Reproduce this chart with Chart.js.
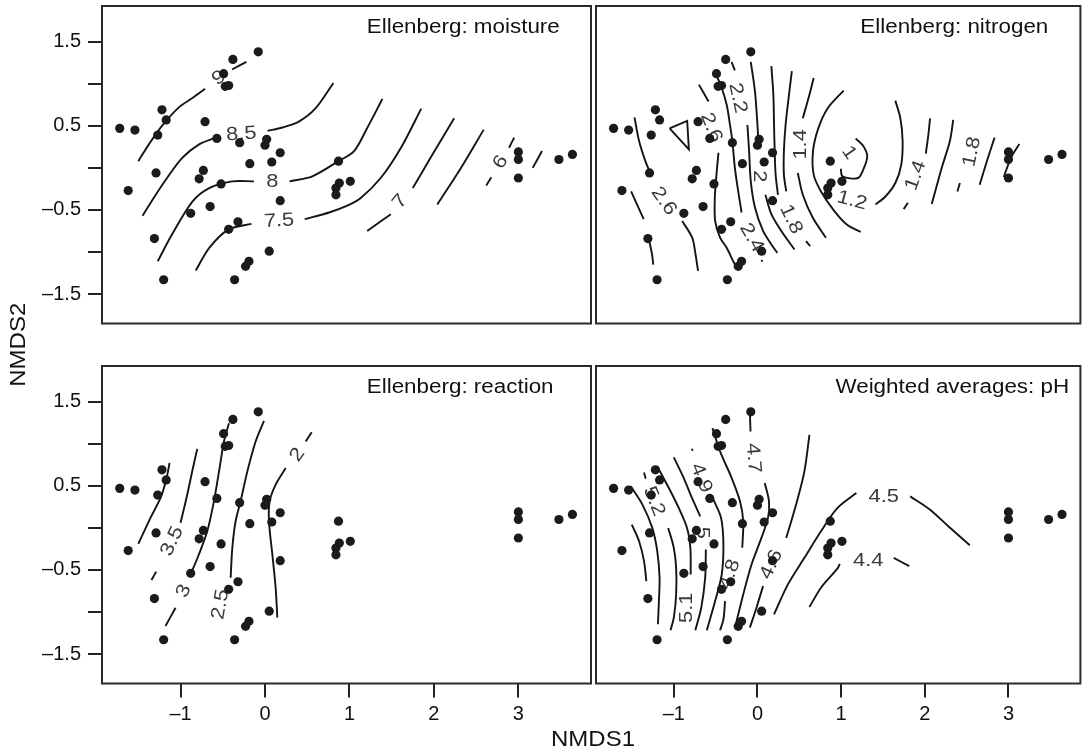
<!DOCTYPE html>
<html>
<head>
<meta charset="utf-8">
<title>NMDS Ellenberg contours</title>
<script src="https://cdn.jsdelivr.net/npm/chart.js@4.4.1/dist/chart.umd.min.js"></script>
<style>
  html, body { margin: 0; padding: 0; background: #fff; }
  #wrap { position: relative; width: 1085px; height: 752px; }
  #wrap canvas { position: absolute; left: 0; top: 0; }
</style>
</head>
<body>
<div id="wrap">
  <canvas id="moisture" width="1085" height="752"></canvas>
  <canvas id="nitrogen" width="1085" height="752"></canvas>
  <canvas id="reaction" width="1085" height="752"></canvas>
  <canvas id="ph" width="1085" height="752"></canvas>
</div>
<script>
const FONT = '"Liberation Sans", Arial, Helvetica, sans-serif';

// eixos
const xTickValues = [-1, 0, 1, 2, 3];
const xTickLabels = ['\u20131', '0', '1', '2', '3'];
const yTickValues = [-1.5, -1, -0.5, 0, 0.5, 1, 1.5];
const yTickLabels = ['\u20131.5', '', '\u20130.5', '', '0.5', '', '1.5'];
const xRange = [-1.93, 3.86];
const yRange = [-1.85, 1.925];

// scores NMDS das parcelas (iguais nos quatro paineis)
const siteX = [-0.08, -0.38, -0.49, -0.47, -0.43, -1.22, -1.17, -1.72, -1.54, -1.27, -0.71,
  -0.57, -0.30, 0.02, 0.00, 0.18, 0.08, -0.18, -1.29, -0.73, -0.78, -0.52, -1.62, 0.18,
  -0.65, -0.88, -0.32, -0.43, -1.31, 0.05, -0.19, -0.23, -1.20, -0.36, 0.87, 0.88, 0.84,
  0.84, 1.01, 3.00, 3.00, 3.00, 3.48, 3.64];
const siteY = [1.38, 1.29, 1.12, 0.97, 0.98, 0.69, 0.57, 0.47, 0.45, 0.39, 0.55,
  0.35, 0.30, 0.34, 0.27, 0.18, 0.07, 0.05, -0.06, -0.03, -0.13, -0.19, -0.27, -0.39,
  -0.46, -0.54, -0.64, -0.73, -0.84, -0.99, -1.11, -1.17, -1.33, -1.33, 0.08, -0.18, -0.24,
  -0.32, -0.16, 0.19, 0.10, -0.12, 0.10, 0.16];

// linhas de contorno (ordisurf), em unidades NMDS
const moistureContours = [
  [[-1.50, 0.08], [-1.375, 0.28], [-1.22, 0.50], [-1.02, 0.72], [-0.86, 0.83], [-0.71, 0.94]],
  [[-0.39, 1.17], [-0.22, 1.26]],
  [[-1.45, -0.57], [-1.32, -0.36], [-1.16, -0.12], [-0.98, 0.12], [-0.78, 0.28], [-0.585, 0.36]],
  [[0.03, 0.44], [0.205, 0.48], [0.40, 0.55], [0.60, 0.71], [0.81, 1.01]],
  [[-1.27, -1.11], [-1.10, -0.79], [-0.86, -0.40], [-0.66, -0.24], [-0.39, -0.16], [-0.13, -0.16]],
  [[0.29, -0.16], [0.56, -0.10], [0.87, 0.08], [1.055, 0.20], [1.21, 0.475], [1.39, 0.82]],
  [[-0.82, -1.22], [-0.66, -0.95], [-0.43, -0.73], [-0.16, -0.665]],
  [[0.47, -0.61], [0.76, -0.53], [0.96, -0.455], [1.13, -0.36], [1.37, -0.12], [1.61, 0.24], [1.85, 0.705]],
  [[1.21, -0.75], [1.49, -0.55]],
  [[1.75, -0.24], [1.96, 0.12], [2.24, 0.59]],
  [[2.04, -0.435], [2.32, 0.0], [2.59, 0.455]],
  [[2.62, -0.21], [2.68, -0.11]],
  [[2.89, 0.24], [2.95, 0.36]],
  [[3.17, 0.0], [3.28, 0.20]]
];
const moistureLabels = [
  ['9', -0.545, 1.07, -35], ['8.5', -0.28, 0.40, -4], ['8', 0.087, -0.17, 0],
  ['7.5', 0.166, -0.63, -3], ['7', 1.60, -0.40, -50], ['6', 2.79, 0.07, -60]
];

const nitrogenContours = [
  [[-1.47, 0.60], [-1.415, 0.32], [-1.34, 0.08], [-1.29, -0.04]],
  [[-1.51, -0.28], [-1.36, -0.61]],
  [[-0.90, -0.63], [-0.78, -0.83], [-0.74, -1.03], [-0.71, -1.225]],
  [[-1.30, -0.84], [-1.26, -1.03], [-1.245, -1.15]],
  [[-1.05, 0.47], [-0.84, 0.56], [-0.82, 0.22], [-1.05, 0.47]],
  [[-0.70, 0.99], [-0.585, 0.79]],
  [[-0.466, 0.18], [-0.49, -0.08], [-0.51, -0.36], [-0.506, -0.63], [-0.447, -0.83], [-0.368, -0.95], [-0.29, -1.11], [-0.237, -1.21]],
  [[-0.31, 1.26], [-0.27, 1.16]],
  [[-0.494, 1.11], [-0.427, 0.95], [-0.368, 0.75], [-0.328, 0.51], [-0.30, 0.32], [-0.27, 0.0], [-0.23, -0.28], [-0.19, -0.53]],
  [[0.047, -1.095], [0.059, -1.115]],
  [[-0.12, 0.51], [-0.10, 0.20], [-0.08, -0.16], [-0.03, -0.47], [0.067, -0.75], [0.166, -0.91], [0.237, -1.01]],
  [[-0.08, 1.26], [-0.03, 0.91], [0.0, 0.51], [0.016, 0.24]],
  [[0.095, -0.32], [0.166, -0.55], [0.285, -0.75], [0.443, -0.97]],
  [[0.166, 1.21], [0.19, 0.87], [0.198, 0.51], [0.206, 0.20], [0.217, -0.08], [0.245, -0.32]],
  [[0.411, 1.15], [0.372, 0.83], [0.336, 0.51], [0.316, 0.20], [0.316, -0.08], [0.344, -0.28]],
  [[0.58, -0.87], [0.63, -0.93]],
  [[0.672, 1.07], [0.621, 0.87], [0.542, 0.59]],
  [[0.482, -0.06], [0.542, -0.32], [0.66, -0.59], [0.818, -0.83]],
  [[1.03, 0.92], [0.84, 0.71], [0.727, 0.47], [0.664, 0.20], [0.672, -0.08], [0.759, -0.28], [0.917, -0.51], [1.075, -0.68], [1.233, -0.76]],
  [[1.174, 0.35], [1.265, 0.26], [1.312, 0.14], [1.273, 0.0], [1.202, -0.12], [1.016, -0.10], [0.996, -0.01]],
  [[1.648, 0.80], [1.708, 0.59], [1.735, 0.32], [1.719, 0.04], [1.648, -0.18], [1.53, -0.34], [1.411, -0.435]],
  [[1.747, -0.49], [1.798, -0.415]],
  [[2.012, 0.17], [2.043, 0.395], [2.063, 0.59]],
  [[2.083, -0.43], [2.202, 0.0], [2.30, 0.32], [2.34, 0.57]],
  [[2.39, -0.28], [2.42, -0.18]],
  [[2.656, -0.20], [2.755, 0.12], [2.834, 0.36]],
  [[2.944, -0.11], [3.03, 0.12], [3.13, 0.285]]
];
const nitrogenLabels = [
  ['2.2', -0.237, 0.83, 78], ['2.6', -0.553, 0.48, 68], ['2.6', -1.12, -0.395, 55],
  ['2', 0.016, -0.10, 90], ['2.4', -0.07, -0.83, 60], ['1.8', 0.40, -0.61, 65],
  ['1.4', 0.52, 0.28, -90], ['1', 1.095, 0.18, 55], ['1.2', 1.13, -0.39, 15],
  ['1.4', 1.893, -0.09, -70], ['1.8', 2.565, 0.19, -78]
];

const reactionContours = [
  [[-1.50, -0.19], [-1.356, 0.12], [-1.237, 0.356], [-1.17, 0.573], [-1.13, 0.771]],
  [[-1.344, -0.62], [-1.289, -0.52]],
  [[-1.0, 0.06], [-0.921, 0.395], [-0.854, 0.71], [-0.802, 0.94]],
  [[-1.178, -1.166], [-1.059, -0.949]],
  [[-0.881, -0.553], [-0.783, -0.316], [-0.684, -0.04], [-0.605, 0.316], [-0.538, 0.711], [-0.486, 1.028], [-0.427, 1.245]],
  [[-0.407, -0.593], [-0.387, -0.237], [-0.348, 0.079], [-0.289, 0.316], [-0.209, 0.672], [-0.111, 1.028], [-0.012, 1.273]],
  [[0.146, -1.067], [0.126, -0.711], [0.087, -0.316], [0.047, 0.079], [0.055, 0.316], [0.126, 0.514], [0.245, 0.711]],
  [[0.482, 1.028], [0.553, 1.138]]
];
const reactionLabels = [
  ['3.5', -1.10, -0.16, -65], ['3', -0.96, -0.75, -65], ['2.5', -0.526, -0.91, -80], ['2', 0.383, 0.87, -55]
];

const phContours = [
  [[-1.514, 0.494], [-1.375, 0.277], [-1.257, 0], [-1.198, -0.277], [-1.17, -0.593], [-1.178, -0.87], [-1.19, -1.146]],
  [[-1.502, 0.04], [-1.415, -0.158], [-1.356, -0.395], [-1.328, -0.632]],
  [[-1.356, 0.66], [-1.336, 0.585]],
  [[-1.198, 0.731], [-1.059, 0.474], [-0.941, 0.237], [-0.842, 0], [-0.802, -0.237], [-0.798, -0.553]],
  [[-1.067, 0], [-1.0, -0.237], [-0.972, -0.474], [-0.972, -0.791], [-1.0, -1.067], [-1.039, -1.217]],
  [[-1.0, 0.838], [-0.881, 0.593], [-0.783, 0.356], [-0.684, 0.138]],
  [[-0.783, 0.941], [-0.775, 0.917]],
  [[-0.617, -0.257], [-0.625, -0.593], [-0.672, -0.949], [-0.743, -1.217]],
  [[-0.538, 1.186], [-0.447, 0.909], [-0.308, 0.593], [-0.209, 0.316], [-0.17, 0.079], [-0.182, -0.237]],
  [[-0.526, 0.336], [-0.435, 0.119], [-0.407, -0.198], [-0.427, -0.553], [-0.506, -0.87], [-0.605, -1.217]],
  [[-0.387, -0.87], [-0.407, -1.087], [-0.447, -1.217]],
  [[-0.091, 1.383], [-0.083, 1.146]],
  [[0.087, 0.534], [0.138, 0.316], [0.126, 0.119], [0.047, -0.119], [-0.071, -0.435], [-0.17, -0.791], [-0.269, -1.186]],
  [[0.621, 1.107], [0.561, 0.672], [0.462, 0.277], [0.344, -0.119]],
  [[0.067, -0.692], [-0.012, -0.949], [-0.091, -1.186]],
  [[0.198, -1.028], [0.364, -0.672], [0.561, -0.356], [0.759, -0.04], [0.957, 0.237], [1.182, 0.415]],
  [[1.826, 0.375], [2.063, 0.217], [2.281, 0.02], [2.538, -0.206]],
  [[0.621, -0.941], [0.759, -0.711], [0.957, -0.482], [0.984, -0.427]],
  [[1.629, -0.356], [1.814, -0.455]]
];
const phLabels = [
  ['5.2', -1.237, 0.316, 68], ['4.9', -0.672, 0.593, 68], ['4.7', -0.051, 0.83, 85],
  ['5', -0.664, -0.059, 90], ['5.1', -0.842, -0.949, -90], ['4.8', -0.33, -0.553, -70],
  ['4.6', 0.166, -0.435, -65], ['4.5', 1.51, 0.375, 0], ['4.4', 1.324, -0.395, 0]
];

// posicao dos paineis na pagina (px)
const frameLeft = [102, 596], frameRight = [591, 1084];
const frameTop = [6, 366], frameBottom = [323.5, 683.5];
const Y_AXIS_W = 60, X_AXIS_H = 60;

const panels = {
  moisture: { contours: moistureContours, labels: moistureLabels, title: 'Ellenberg: moisture', titleAt: [1.205, 1.60], col: 0, row: 0 },
  nitrogen: { contours: nitrogenContours, labels: nitrogenLabels, title: 'Ellenberg: nitrogen', titleAt: [1.229, 1.60], col: 1, row: 0 },
  reaction: { contours: reactionContours, labels: reactionLabels, title: 'Ellenberg: reaction', titleAt: [1.205, 1.60], col: 0, row: 1 },
  ph: { contours: phContours, labels: phLabels, title: 'Weighted averages: pH', titleAt: [0.932, 1.60], col: 1, row: 1 }
};

function stretchText(ctx, txt, px, py, ang, sx) {
  ctx.save();
  ctx.translate(px, py);
  ctx.rotate(ang * Math.PI / 180);
  ctx.scale(sx, 1);
  ctx.fillText(txt, 0, 0);
  ctx.restore();
}

// rotulos das curvas, moldura e titulo de cada painel
const panelDecor = {
  id: 'panelDecor',
  beforeDatasetsDraw(chart) {
    const p = panels[chart.canvas.id];
    const { ctx, scales: { x, y } } = chart;
    ctx.save();
    ctx.fillStyle = '#3a3a3a';
    ctx.font = '19px ' + FONT;
    ctx.textAlign = 'center';
    ctx.textBaseline = 'middle';
    p.labels.forEach(([txt, vx, vy, ang]) => {
      stretchText(ctx, txt, x.getPixelForValue(vx), y.getPixelForValue(vy), ang, 1.15);
    });
    ctx.restore();
  },
  afterDraw(chart) {
    const p = panels[chart.canvas.id];
    const { ctx, chartArea: a, scales: { x, y } } = chart;
    ctx.save();
    ctx.strokeStyle = '#2a2a2a';
    ctx.lineWidth = 2;
    ctx.strokeRect(a.left, a.top, a.right - a.left, a.bottom - a.top);
    ctx.fillStyle = '#111';
    ctx.font = '20px ' + FONT;
    ctx.textAlign = 'left';
    ctx.textBaseline = 'alphabetic';
    stretchText(ctx, p.title, x.getPixelForValue(p.titleAt[0]), y.getPixelForValue(p.titleAt[1]), 0, 1.12);
    if (chart.canvas.id === 'reaction') {
      // titulos dos eixos, comuns aos quatro paineis
      ctx.font = '22px ' + FONT;
      ctx.textAlign = 'center';
      stretchText(ctx, 'NMDS1', (frameLeft[0] + frameRight[1]) / 2, 746, 0, 1.09);
      stretchText(ctx, 'NMDS2', 25, (frameTop[0] + frameBottom[1]) / 2, -90, 1.09);
    }
    ctx.restore();
  }
};

function axis(values, labels, range, show, isX) {
  return {
    type: 'linear',
    min: range[0],
    max: range[1],
    display: show,
    afterBuildTicks: s => { s.ticks = values.map(v => ({ value: v })); },
    afterFit: s => {
      if (!show) return;
      if (isX) s.height = X_AXIS_H; else s.width = Y_AXIS_W;
      s.paddingTop = 0; s.paddingBottom = 0; s.paddingLeft = 0; s.paddingRight = 0;
    },
    grid: { drawOnChartArea: false, drawTicks: true, tickLength: 14, color: '#222', lineWidth: 2 },
    border: { display: false },
    ticks: {
      autoSkip: false, maxRotation: 0, color: '#111', padding: isX ? 5 : 7,
      font: { family: FONT, size: 20 },
      callback: (v, i) => labels[i]
    }
  };
}

function criarPainel(id) {
  const p = panels[id];
  const showX = p.row === 1, showY = p.col === 0;
  const datasets = p.contours.map(pts => ({
    data: pts.map(([x, y]) => ({ x, y })),
    showLine: true,
    borderColor: '#141414',
    borderWidth: 1.9,
    pointRadius: 0,
    tension: (pts[0][0] === pts[pts.length - 1][0] && pts[0][1] === pts[pts.length - 1][1]) ? 0 : 0.3,
    order: 1
  }));
  datasets.push({
    data: siteX.map((x, i) => ({ x, y: siteY[i] })),
    showLine: false,
    pointRadius: 4.6,
    pointBackgroundColor: '#1b1b1b',
    pointBorderWidth: 0,
    order: 0
  });
  new Chart(document.getElementById(id), {
    type: 'scatter',
    data: { datasets },
    options: {
      responsive: false,
      animation: false,
      events: [],
      layout: {
        padding: {
          left: frameLeft[p.col] - (showY ? Y_AXIS_W : 0),
          right: 1085 - frameRight[p.col],
          top: frameTop[p.row],
          bottom: 752 - frameBottom[p.row] - (showX ? X_AXIS_H : 0)
        }
      },
      plugins: { legend: { display: false }, tooltip: { enabled: false } },
      scales: {
        x: axis(xTickValues, xTickLabels, xRange, showX, true),
        y: axis(yTickValues, yTickLabels, yRange, showY, false)
      }
    },
    plugins: [panelDecor]
  });
}

Object.keys(panels).forEach(criarPainel);
</script>
</body>
</html>
